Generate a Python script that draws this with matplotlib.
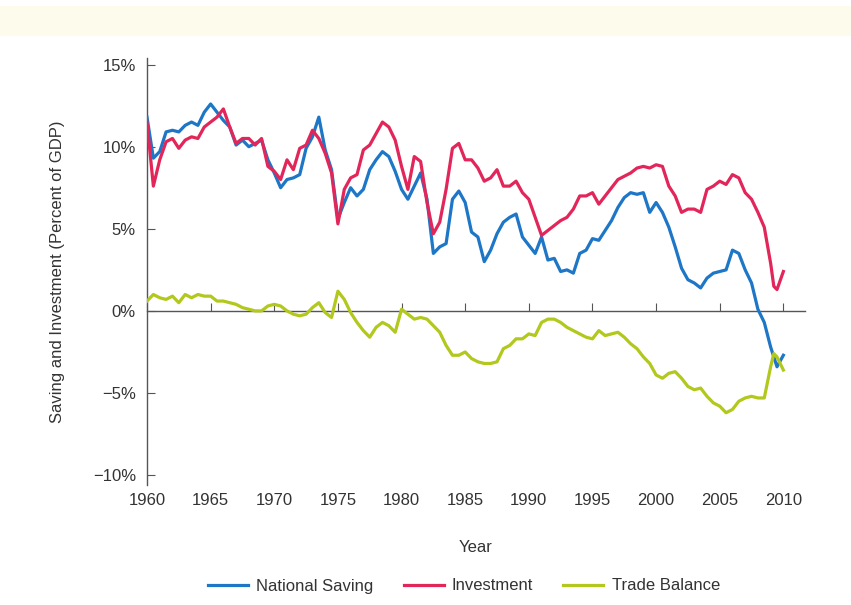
import numpy as np
import matplotlib
matplotlib.use("Agg")
import matplotlib.pyplot as plt
from matplotlib.patches import Rectangle

plt.rcParams['font.family'] = ['Liberation Sans', 'DejaVu Sans']

years = [1960.0, 1960.5, 1961.0, 1961.5, 1962.0, 1962.5, 1963.0, 1963.5, 1964.0, 1964.5,
         1965.0, 1965.5, 1966.0, 1966.5, 1967.0, 1967.5, 1968.0, 1968.5, 1969.0, 1969.5,
         1970.0, 1970.5, 1971.0, 1971.5, 1972.0, 1972.5, 1973.0, 1973.5, 1974.0, 1974.5,
         1975.0, 1975.5, 1976.0, 1976.5, 1977.0, 1977.5, 1978.0, 1978.5, 1979.0, 1979.5,
         1980.0, 1980.5, 1981.0, 1981.5, 1982.0, 1982.5, 1983.0, 1983.5, 1984.0, 1984.5,
         1985.0, 1985.5, 1986.0, 1986.5, 1987.0, 1987.5, 1988.0, 1988.5, 1989.0, 1989.5,
         1990.0, 1990.5, 1991.0, 1991.5, 1992.0, 1992.5, 1993.0, 1993.5, 1994.0, 1994.5,
         1995.0, 1995.5, 1996.0, 1996.5, 1997.0, 1997.5, 1998.0, 1998.5, 1999.0, 1999.5,
         2000.0, 2000.5, 2001.0, 2001.5, 2002.0, 2002.5, 2003.0, 2003.5, 2004.0, 2004.5,
         2005.0, 2005.5, 2006.0, 2006.5, 2007.0, 2007.5, 2008.0, 2008.5, 2009.0, 2009.25,
         2009.5, 2010.0]

national_saving = [11.8, 9.3, 9.7, 10.9, 11.0, 10.9, 11.3, 11.5, 11.3, 12.1,
                   12.6, 12.1, 11.6, 11.2, 10.1, 10.4, 10.0, 10.2, 10.4, 9.2,
                   8.4, 7.5, 8.0, 8.1, 8.3, 9.9, 10.6, 11.8, 9.8, 8.6,
                   5.6, 6.6, 7.5, 7.0, 7.4, 8.6, 9.2, 9.7, 9.4, 8.5,
                   7.4, 6.8, 7.6, 8.4, 6.8, 3.5, 3.9, 4.1, 6.8, 7.3,
                   6.6, 4.8, 4.5, 3.0, 3.7, 4.7, 5.4, 5.7, 5.9, 4.5,
                   4.0, 3.5, 4.5, 3.1, 3.2, 2.4, 2.5, 2.3, 3.5, 3.7,
                   4.4, 4.3, 4.9, 5.5, 6.3, 6.9, 7.2, 7.1, 7.2, 6.0,
                   6.6, 6.0, 5.1, 3.9, 2.6, 1.9, 1.7, 1.4, 2.0, 2.3,
                   2.4, 2.5, 3.7, 3.5, 2.5, 1.7, 0.1, -0.7, -2.2, -2.8,
                   -3.4, -2.7]

investment = [11.5, 7.6, 9.2, 10.3, 10.5, 9.9, 10.4, 10.6, 10.5, 11.2,
              11.5, 11.8, 12.3, 11.2, 10.2, 10.5, 10.5, 10.1, 10.5, 8.8,
              8.5, 8.0, 9.2, 8.6, 9.9, 10.1, 11.0, 10.5, 9.6, 8.4,
              5.3, 7.4, 8.1, 8.3, 9.8, 10.1, 10.8, 11.5, 11.2, 10.4,
              8.8, 7.4, 9.4, 9.1, 6.6, 4.7, 5.4, 7.4, 9.9, 10.2,
              9.2, 9.2, 8.7, 7.9, 8.1, 8.6, 7.6, 7.6, 7.9, 7.2,
              6.8, 5.7, 4.6, 4.9, 5.2, 5.5, 5.7, 6.2, 7.0, 7.0,
              7.2, 6.5, 7.0, 7.5, 8.0, 8.2, 8.4, 8.7, 8.8, 8.7,
              8.9, 8.8, 7.6, 7.0, 6.0, 6.2, 6.2, 6.0, 7.4, 7.6,
              7.9, 7.7, 8.3, 8.1, 7.2, 6.8, 6.0, 5.1, 2.9, 1.5,
              1.3, 2.4]

trade_balance = [0.6, 1.0, 0.8, 0.7, 0.9, 0.5, 1.0, 0.8, 1.0, 0.9,
                 0.9, 0.6, 0.6, 0.5, 0.4, 0.2, 0.1, 0.0, 0.0, 0.3,
                 0.4, 0.3, 0.0, -0.2, -0.3, -0.2, 0.2, 0.5, -0.1, -0.4,
                 1.2, 0.7, -0.1, -0.7, -1.2, -1.6, -1.0, -0.7, -0.9, -1.3,
                 0.1, -0.2, -0.5, -0.4, -0.5, -0.9, -1.3, -2.1, -2.7, -2.7,
                 -2.5, -2.9, -3.1, -3.2, -3.2, -3.1, -2.3, -2.1, -1.7, -1.7,
                 -1.4, -1.5, -0.7, -0.5, -0.5, -0.7, -1.0, -1.2, -1.4, -1.6,
                 -1.7, -1.2, -1.5, -1.4, -1.3, -1.6, -2.0, -2.3, -2.8, -3.2,
                 -3.9, -4.1, -3.8, -3.7, -4.1, -4.6, -4.8, -4.7, -5.2, -5.6,
                 -5.8, -6.2, -6.0, -5.5, -5.3, -5.2, -5.3, -5.3, -3.4, -2.6,
                 -2.8, -3.6]

series_names = ["National Saving", "Investment", "Trade Balance"]
colors = ["#1d76c6", "#e2265a", "#b2c81c"]
y_ticks = [15, 10, 5, 0, -5, -10]
y_tick_labels = ["15%", "10%", "5%", "0%", "\u22125%", "\u221210%"]
x_ticks = [1960, 1965, 1970, 1975, 1980, 1985, 1990, 1995, 2000, 2005, 2010]

fig = plt.figure(figsize=(8.51, 6.05), dpi=100)
fig.patches.append(Rectangle((0.0, 1 - 36 / 605), 1.0, 30 / 605, transform=fig.transFigure,
                             facecolor="#fdfbec", edgecolor="none", zorder=0))
ax = fig.add_axes([147 / 851, 1 - 485 / 605, (805 - 147) / 851, (485 - 58) / 605])

for vals, name, c in zip([national_saving, investment, trade_balance], series_names, colors):
    ax.plot(years, vals, color=c, lw=2.3, label=name, solid_joinstyle="round", zorder=3)

ax.set_xlim(1960, 2011.7)
ax.set_ylim(-10.6, 15.4)

for s in ["top", "right"]:
    ax.spines[s].set_visible(False)
ax.spines["bottom"].set_position(("data", 0))
for s in ["bottom", "left"]:
    ax.spines[s].set_color("#555555")
    ax.spines[s].set_linewidth(1.0)

ax.set_yticks(y_ticks)
ax.set_yticklabels(y_tick_labels)
ax.tick_params(axis="y", direction="in", length=6, color="#555555", labelsize=12,
               labelcolor="#333333", pad=8)
ax.set_xticks(x_ticks)
ax.tick_params(axis="x", direction="in", length=6, color="#555555", labelbottom=False)

sec = ax.secondary_xaxis("bottom")
sec.set_xticks(x_ticks)
sec.spines["bottom"].set_visible(False)
sec.tick_params(axis="x", length=0, pad=6, labelsize=12, labelcolor="#333333")
sec.set_xlabel("Year", fontsize=12, color="#333333", labelpad=23)

ax.set_ylabel("Saving and Investment (Percent of GDP)", fontsize=12, color="#333333", labelpad=20)

fig.legend(loc="center", bbox_to_anchor=(464 / 851, 1 - 586 / 605), ncol=3, frameon=False,
           fontsize=12, handlelength=2.4, columnspacing=1.8, handletextpad=0.5,
           labelcolor="#333333")

fig.savefig("out.png", dpi=100, facecolor="white")
